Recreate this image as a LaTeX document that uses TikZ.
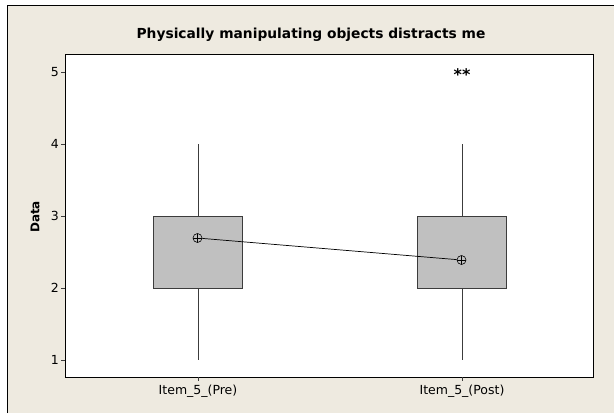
\documentclass[tikz,border=0pt]{standalone}
\usepackage{fontspec}
\setmainfont{DejaVu Sans}
\definecolor{bgbeige}{RGB}{238,234,224}
\definecolor{boxgray}{RGB}{192,192,192}
\definecolor{edgegray}{RGB}{60,60,60}
\begin{document}
\begin{tikzpicture}[x=1pt,y=-1pt,
  ticklab/.style={font=\fontsize{12.5}{14}\selectfont, inner sep=1pt},
  whisk/.style={draw=edgegray, line width=0.8pt},
  boxst/.style={draw=edgegray, fill=boxgray, line width=1pt},
  meanmark/.style={circle, draw=black, line width=0.6pt, minimum size=9pt, inner sep=0pt,
    path picture={\draw[line width=0.5pt] (path picture bounding box.north) -- (path picture bounding box.south)
      (path picture bounding box.west) -- (path picture bounding box.east);}}]
\useasboundingbox (0,0) rectangle (614,413);
\fill[white] (0,0) rectangle (614,413);
\fill[bgbeige] (7,5) rectangle (614,413);
\draw[black, line width=0.8pt] (7,413) -- (7,5) -- (614,5);
% plot area
\draw[fill=white, draw=black, line width=0.9pt] (65,54) rectangle (593,377);
\node[font=\bfseries\fontsize{13.8}{16}\selectfont] (title) at (311,35) {Physically manipulating objects distracts me};
\node[font=\bfseries\fontsize{12}{14}\selectfont, rotate=90] (ylab) at (35,217) {Data};
% y ticks
\foreach \v/\yy in {1/360,2/288,3/216,4/144,5/72}{
  \draw[edgegray, line width=0.7pt] (61,\yy) -- (65,\yy);
  \node[ticklab, anchor=east] (yt\v) at (60,\yy) {\v};
}
% x ticks
\draw[edgegray, line width=0.7pt] (198,377) -- (198,381);
\draw[edgegray, line width=0.7pt] (462,377) -- (462,381);
\node[ticklab] (xpre) at (198,391) {Item\_5\_(Pre)};
\node[ticklab] (xpost) at (462,391) {Item\_5\_(Post)};
% Pre box
\draw[whisk] (198,144) -- (198,216);
\draw[whisk] (198,288) -- (198,360);
\draw[boxst] (153,216) rectangle (242,288);
% Post box
\draw[whisk] (462,144) -- (462,216);
\draw[whisk] (462,288) -- (462,360);
\draw[boxst] (417,216) rectangle (506,288);
% means
\node[meanmark] (mpre) at (197.5,238) {};
\node[meanmark] (mpost) at (461.5,260) {};
\draw[black, line width=0.7pt] (mpre) -- (mpost);
% outliers
\node[font=\bfseries\fontsize{16}{16}\selectfont, inner sep=0pt] (outl) at (462,74.5) {**};
\end{tikzpicture}
\end{document}
